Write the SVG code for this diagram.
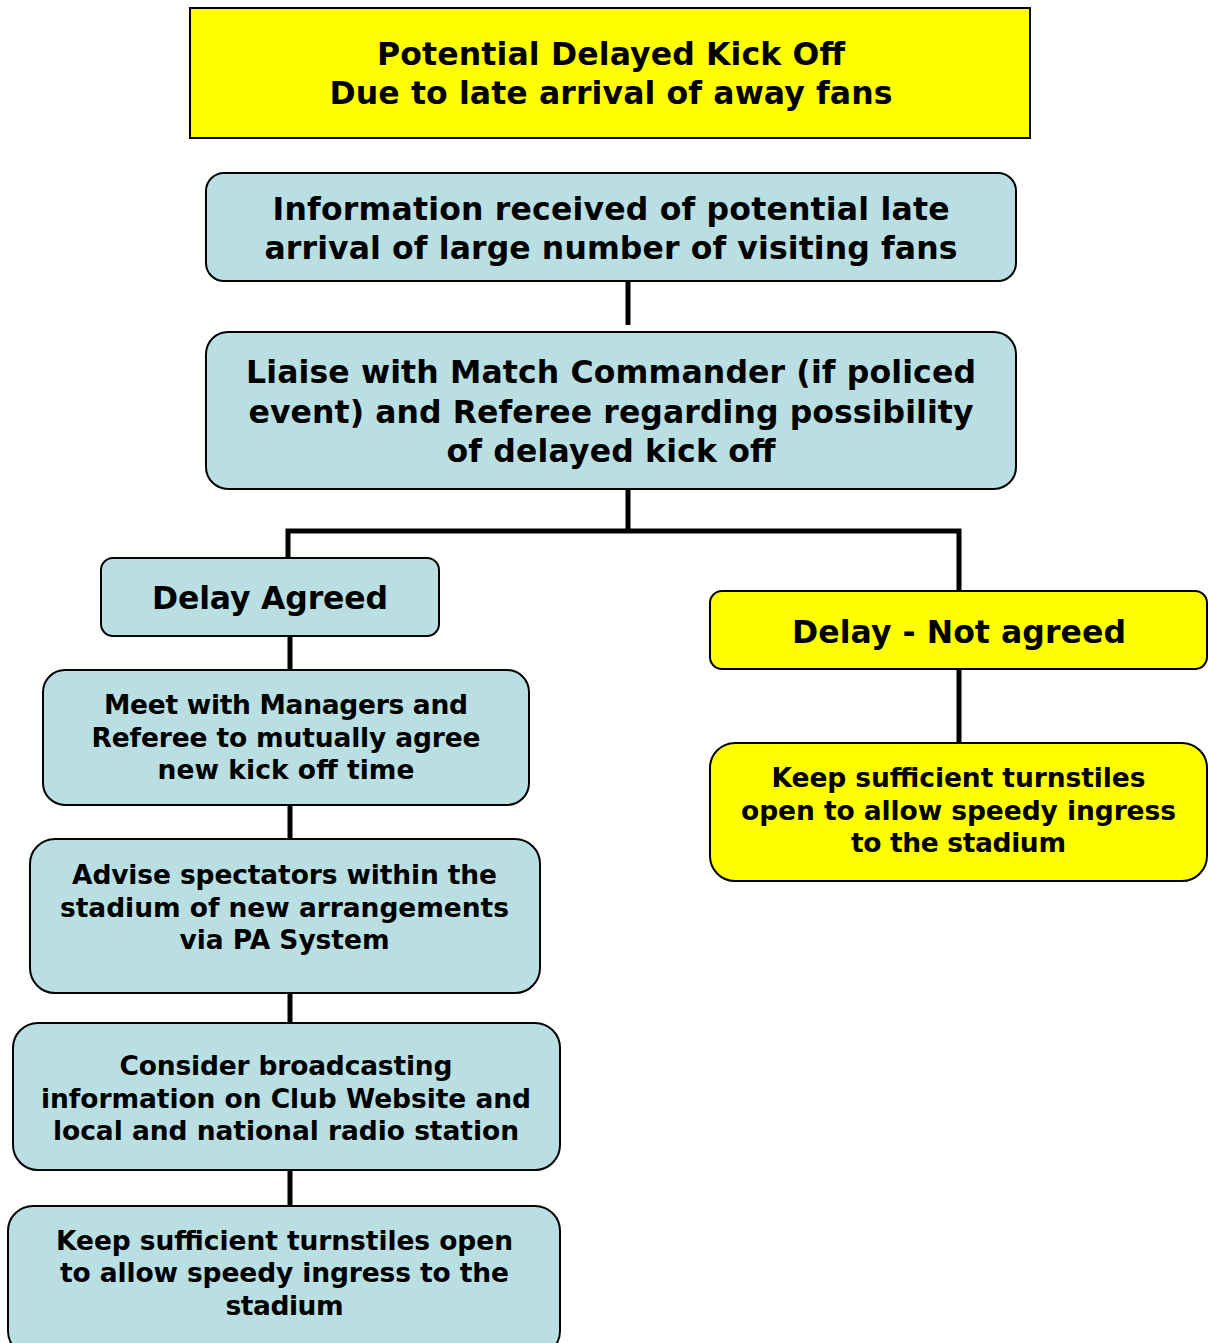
<svg xmlns="http://www.w3.org/2000/svg" width="1208" height="1343" viewBox="0 0 1208 1343">
<style>
.b{fill:#B9DFE3;stroke:#000;stroke-width:2}
.y{fill:#FFFF00;stroke:#000;stroke-width:2}
text{font-family:"DejaVu Sans",Verdana,sans-serif;font-weight:bold;fill:#000;text-anchor:middle}
.t30{font-size:31.5px}
.t31{font-size:31.5px}
.t26{font-size:26.5px}
.c{stroke:#000;stroke-width:5;fill:none}
</style>
<rect width="1208" height="1343" fill="#fff"/>
<g id="connectors">
<path class="c" d="M628 281V325"/>
<path class="c" d="M628 489V531M288 558V531H959V591"/>
<path class="c" d="M959 669V743"/>
<path class="c" d="M290 636V670"/>
<path class="c" d="M290 805V839"/>
<path class="c" d="M290 993V1023"/>
<path class="c" d="M290 1170V1206"/>
</g>
<g id="title">
<rect class="y" x="190" y="8" width="840" height="130"/>
<text class="t30" x="611" y="65" textLength="468">Potential Delayed Kick Off</text>
<text class="t30" x="611" y="104" textLength="563">Due to late arrival of away fans</text>
</g>
<g id="info">
<rect class="b" x="206" y="173" width="810" height="108" rx="18"/>
<text class="t30" x="611" y="220" textLength="677">Information received of potential late</text>
<text class="t30" x="611" y="259" textLength="693">arrival of large number of visiting fans</text>
</g>
<g id="liaise">
<rect class="b" x="206" y="332" width="810" height="157" rx="22"/>
<text class="t31" x="611" y="383" textLength="730">Liaise with Match Commander (if policed</text>
<text class="t31" x="611" y="423" textLength="725">event) and Referee regarding possibility</text>
<text class="t31" x="611" y="462" textLength="329">of delayed kick off</text>
</g>
<g id="agreed">
<rect class="b" x="101" y="558" width="338" height="78" rx="12"/>
<text class="t31" x="270" y="609" textLength="236">Delay Agreed</text>
</g>
<g id="notagreed">
<rect class="y" x="710" y="591" width="497" height="78" rx="12"/>
<text class="t31" x="959" y="643" textLength="334">Delay - Not agreed</text>
</g>
<g id="keepright">
<rect class="y" x="710" y="743" width="497" height="138" rx="25"/>
<text class="t26" x="958.5" y="787" textLength="374">Keep sufficient turnstiles</text>
<text class="t26" x="958.5" y="820" textLength="435">open to allow speedy ingress</text>
<text class="t26" x="958.5" y="852" textLength="215">to the stadium</text>
</g>
<g id="meet">
<rect class="b" x="43" y="670" width="486" height="135" rx="22"/>
<text class="t26" x="286" y="714" textLength="364">Meet with Managers and</text>
<text class="t26" x="286" y="747" textLength="389">Referee to mutually agree</text>
<text class="t26" x="286" y="779" textLength="257">new kick off time</text>
</g>
<g id="advise">
<rect class="b" x="30" y="839" width="510" height="154" rx="25"/>
<text class="t26" x="284.5" y="884" textLength="425">Advise spectators within the</text>
<text class="t26" x="284.5" y="917" textLength="449">stadium of new arrangements</text>
<text class="t26" x="284.5" y="949" textLength="210">via PA System</text>
</g>
<g id="consider">
<rect class="b" x="13" y="1023" width="547" height="147" rx="25"/>
<text class="t26" x="286" y="1075" textLength="333">Consider broadcasting</text>
<text class="t26" x="286" y="1108" textLength="490">information on Club Website and</text>
<text class="t26" x="286" y="1140" textLength="466">local and national radio station</text>
</g>
<g id="keepleft">
<rect class="b" x="8" y="1206" width="552" height="150" rx="25"/>
<text class="t26" x="284.5" y="1250" textLength="457">Keep sufficient turnstiles open</text>
<text class="t26" x="284.5" y="1282" textLength="449">to allow speedy ingress to the</text>
<text class="t26" x="284.5" y="1315" textLength="118">stadium</text>
</g>
</svg>
